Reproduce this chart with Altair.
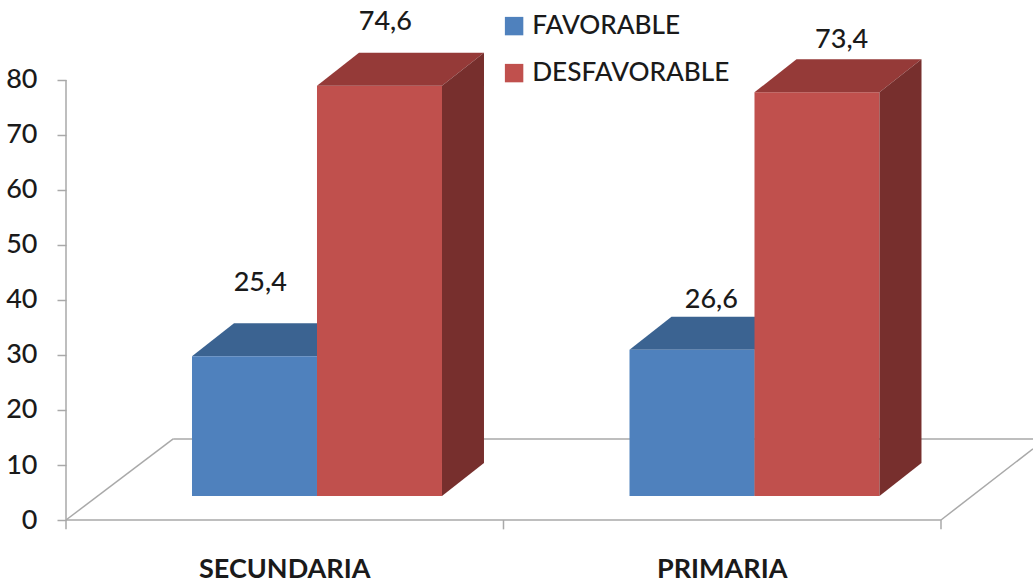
import altair as alt
import pandas as pd

# Survey results per school level
categories = ["SECUNDARIA", "PRIMARIA"]
favorable = [25.4, 26.6]
desfavorable = [74.6, 73.4]
series_names = ["FAVORABLE", "DESFAVORABLE"]
value_labels = ["25,4", "74,6", "26,6", "73,4"]

# Drawing styles
FONT = "Lato"
INK = "#1a1a1a"
AXIS_GREY = "#a9a9a9"
FRONT = ["#4F81BD", "#C0504D"]
TOP = ["#3B6391", "#953A38"]
SIDE = ["#345680", "#772F2D"]

# Pseudo-3D geometry, in axis units: x counts category slots, y counts values
BASE = 4.36          # height at which the front of a bar rests
BAR_W = 0.2857
GAP = 0.2880         # distance from a slot's left edge to its first bar
DEPTH_X = 0.096
DEPTH_Y = 6.0
FLOOR_X = 0.245
FLOOR_Y = 14.75
X_MAX = 2.2103
Y_MAX = 94.545
Y_MIN = -11.818

x_scale = alt.Scale(domain=[0, X_MAX], nice=False, zero=False)
y_scale = alt.Scale(domain=[Y_MIN, Y_MAX], nice=False, zero=False)

# The value axis is shared by every layer
y_axis = alt.Axis(
    values=list(range(0, 90, 10)),
    title=None,
    domain=False,
    grid=False,
    tickColor=AXIS_GREY,
    tickWidth=1.5,
    tickSize=9,
    labelFont=FONT,
    labelFontSize=27,
    labelFontWeight=500,
    labelColor=INK,
    labelPadding=20,
)

# One row per bar
bars = []
for slot, cat in enumerate(categories):
    for pos, (name, vals) in enumerate(zip(series_names, [favorable, desfavorable])):
        left = slot + GAP + pos * BAR_W
        bars.append(dict(bar=f"{cat}-{name}", series=name, pos=pos, value=vals[slot],
                         left=left, right=left + BAR_W, base=BASE, top=BASE + vals[slot]))
bars = pd.DataFrame(bars)


def top_face(df):
    rows = []
    for r in df.itertuples():
        rows.append(dict(bar=r.bar, y=r.top, x=r.left, x2=r.right))
        rows.append(dict(bar=r.bar, y=r.top + DEPTH_Y, x=r.left + DEPTH_X, x2=r.right + DEPTH_X))
    return pd.DataFrame(rows)


def side_face(df):
    rows = []
    for r in df.itertuples():
        rows.append(dict(bar=r.bar, x=r.right, y=r.base, y2=r.top))
        rows.append(dict(bar=r.bar, x=r.right + DEPTH_X, y=r.base + DEPTH_Y, y2=r.top + DEPTH_Y))
    return pd.DataFrame(rows)


def top_layer(pos):
    return alt.Chart(top_face(bars[bars.pos == pos])).mark_area(
        orient="horizontal", color=TOP[pos], opacity=1
    ).encode(
        y=alt.Y("y:Q", scale=y_scale, axis=y_axis),
        x=alt.X("x:Q", scale=x_scale, axis=None),
        x2="x2:Q",
        detail="bar:N",
    )


def side_layer(pos):
    return alt.Chart(side_face(bars[bars.pos == pos])).mark_area(
        orient="vertical", color=SIDE[pos], opacity=1
    ).encode(
        x=alt.X("x:Q", scale=x_scale, axis=None),
        y=alt.Y("y:Q", scale=y_scale, axis=y_axis),
        y2="y2:Q",
        detail="bar:N",
    )


# Chart floor, vertical axis line and the ticks under the horizontal axis
lines = pd.DataFrame(
    [
        dict(x=0, x2=2, y=0, y2=0),
        dict(x=0, x2=0, y=0, y2=80),
        dict(x=0, x2=FLOOR_X, y=0, y2=FLOOR_Y),
        dict(x=FLOOR_X, x2=X_MAX, y=FLOOR_Y, y2=FLOOR_Y),
        dict(x=2, x2=X_MAX, y=0, y2=FLOOR_Y - 1.8),
        dict(x=0, x2=0, y=0, y2=-1.7),
        dict(x=1, x2=1, y=0, y2=-1.7),
        dict(x=2, x2=2, y=0, y2=-1.7),
    ]
)
line_layer = alt.Chart(lines).mark_rule(color=AXIS_GREY, strokeWidth=1.5).encode(
    x=alt.X("x:Q", scale=x_scale, axis=None),
    x2="x2:Q",
    y=alt.Y("y:Q", scale=y_scale, axis=y_axis),
    y2="y2:Q",
)

# Front faces carry the colour legend
front_layer = alt.Chart(bars).mark_rect(opacity=1).encode(
    x=alt.X("left:Q", scale=x_scale, axis=None),
    x2="right:Q",
    y=alt.Y("base:Q", scale=y_scale, axis=y_axis),
    y2="top:Q",
    color=alt.Color(
        "series:N",
        scale=alt.Scale(domain=series_names, range=FRONT),
        sort=series_names,
        legend=alt.Legend(
            title=None,
            orient="none",
            legendX=435,
            legendY=13,
            symbolType="square",
            symbolSize=340,
            symbolStrokeWidth=0,
            symbolOpacity=1,
            labelFont=FONT,
            labelFontSize=26.2,
            labelFontWeight=500,
            labelColor=INK,
            labelOffset=5,
            rowPadding=20,
            labelLimit=400,
        ),
    ),
)

# Value labels sit at hand-picked heights above each bar
label_x = [0.444, 0.730, 1.475, 1.773]
label_y = [43.0, 90.5, 40.0, 87.2]
value_text = pd.DataFrame(dict(x=label_x, y=label_y, text=value_labels))
value_layer = alt.Chart(value_text).mark_text(
    font=FONT, fontSize=27, fontWeight=500, color=INK, align="center", baseline="middle"
).encode(
    x=alt.X("x:Q", scale=x_scale, axis=None),
    y=alt.Y("y:Q", scale=y_scale, axis=y_axis),
    text="text:N",
)

cat_text = pd.DataFrame(dict(x=[0.5, 1.5], y=[-9.1, -9.1], text=categories))
cat_layer = alt.Chart(cat_text).mark_text(
    font=FONT, fontSize=27, fontWeight="bold", color=INK, align="center", baseline="middle"
).encode(
    x=alt.X("x:Q", scale=x_scale, axis=None),
    y=alt.Y("y:Q", scale=y_scale, axis=y_axis),
    text="text:N",
)

chart = (
    alt.layer(
        line_layer,
        top_layer(0),
        side_layer(0),
        front_layer,
        top_layer(1),
        side_layer(1),
        value_layer,
        cat_layer,
    )
    .properties(
        width=967,
        height=585,
        padding={"left": 66, "top": 0, "right": 0, "bottom": 0},
        autosize=alt.AutoSizeParams(type="none"),
        background="white",
    )
    .configure_view(stroke=None)
)

chart.save("out.html", embed_options={"renderer": "svg", "actions": False})
